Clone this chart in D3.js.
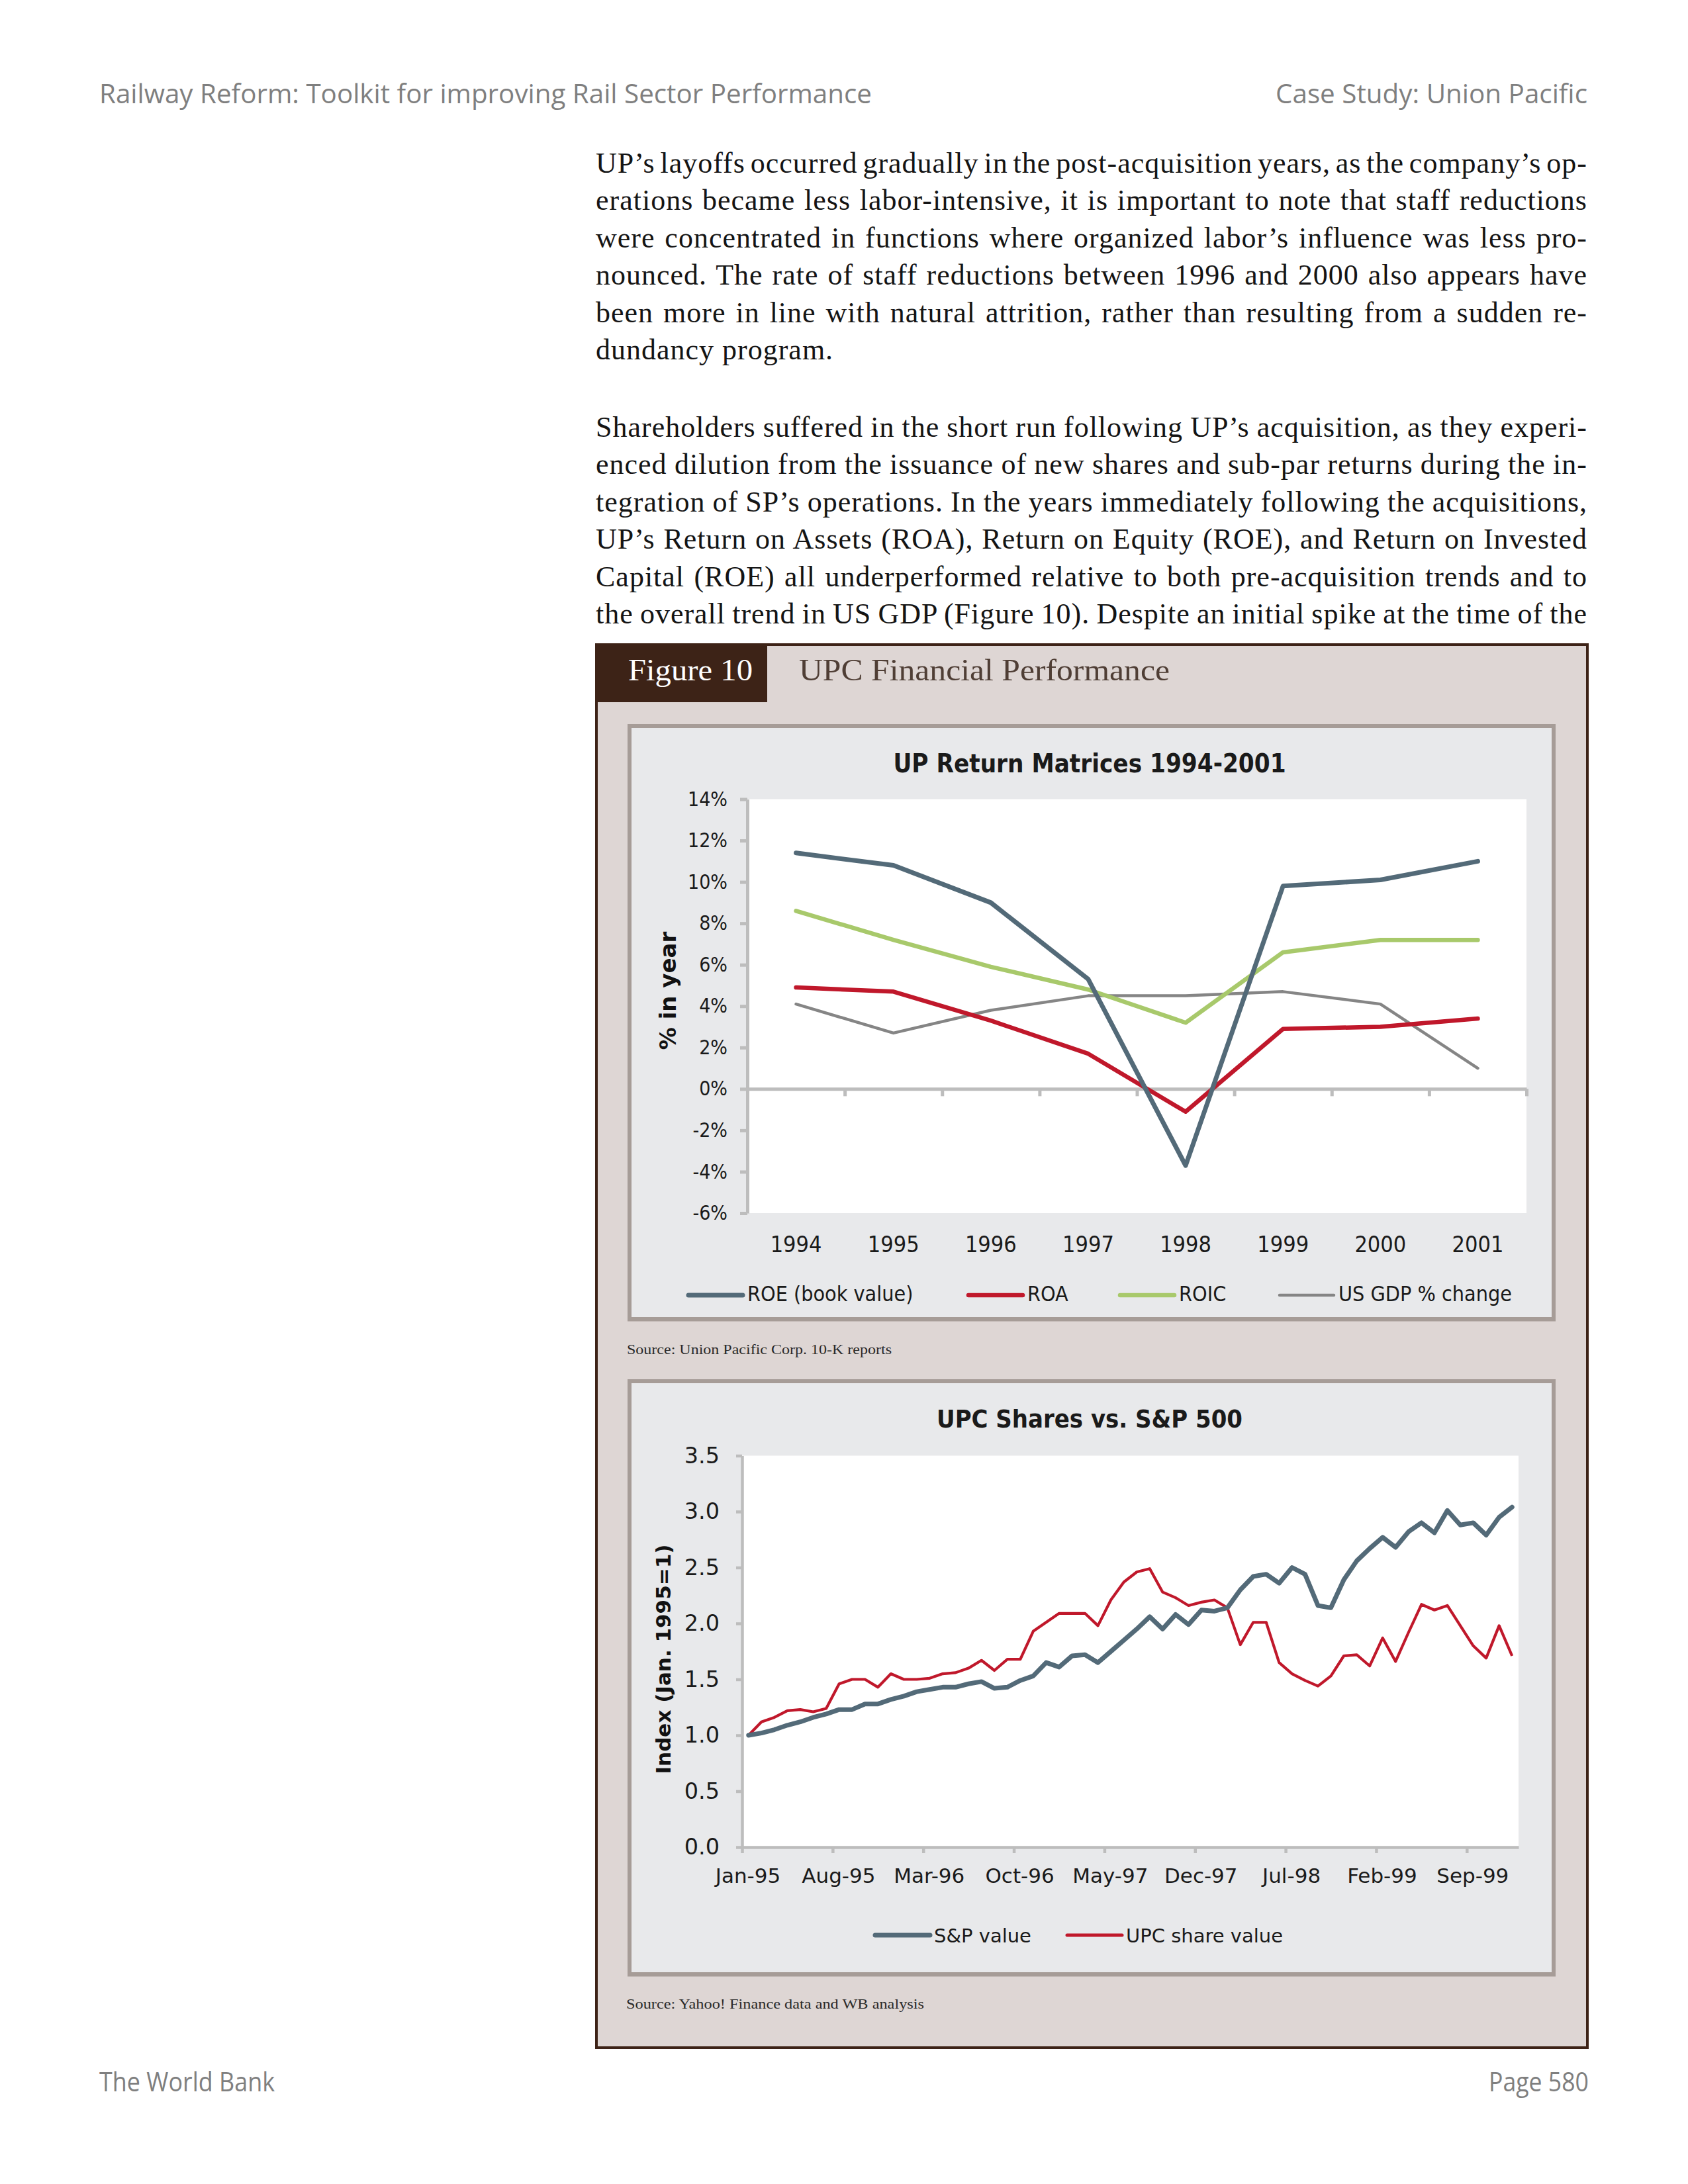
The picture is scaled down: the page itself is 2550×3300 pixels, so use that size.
<!DOCTYPE html>
<html><head><meta charset="utf-8">
<script src="https://cdn.jsdelivr.net/npm/d3@7/dist/d3.min.js"></script>
<style>html,body{margin:0;padding:0;background:#fff;}svg{display:block}</style>
</head><body>
<svg id="page" width="2550" height="3300"></svg>
<script>
// ---------- DATA ----------
const years = ["1994","1995","1996","1997","1998","1999","2000","2001"];
const roe  = [11.4, 10.8, 9.0, 5.3, -3.7, 9.8, 10.1, 11.0];
const roa  = [4.9, 4.7, 3.3, 1.7, -1.1, 2.9, 3.0, 3.4];
const roic = [8.6, 7.2, 5.9, 4.8, 3.2, 6.6, 7.2, 7.2];
const gdp  = [4.1, 2.7, 3.8, 4.5, 4.5, 4.7, 4.1, 1.0];
const pctTicks = [-6, -4, -2, 0, 2, 4, 6, 8, 10, 12, 14];
const legend1 = ["ROE (book value)", "ROA", "ROIC", "US GDP % change"];

const monthTickLabels = ["Jan-95","Aug-95","Mar-96","Oct-96","May-97","Dec-97","Jul-98","Feb-99","Sep-99"];
const indexTicks = [0, 0.5, 1, 1.5, 2, 2.5, 3, 3.5];
const spValue = [1.00,1.02,1.05,1.09,1.12,1.16,1.19,1.23,1.23,1.28,1.28,1.32,1.35,1.39,1.41,1.43,1.43,1.46,1.48,1.42,
                 1.43,1.49,1.53,1.65,1.61,1.71,1.72,1.65,1.75,1.85,1.95,2.06,1.95,2.08,1.99,2.12,2.11,2.14,2.30,2.42,
                 2.44,2.36,2.50,2.44,2.16,2.14,2.39,2.56,2.67,2.77,2.68,2.82,2.90,2.81,3.01,2.88,2.90,2.79,2.95,3.04];
const upcValue = [1.00,1.12,1.16,1.22,1.23,1.21,1.24,1.46,1.50,1.50,1.43,1.55,1.50,1.50,1.51,1.55,1.56,1.60,1.67,1.58,
                  1.68,1.68,1.93,2.01,2.09,2.09,2.09,1.98,2.21,2.37,2.46,2.49,2.28,2.23,2.16,2.19,2.21,2.14,1.81,2.01,
                  2.01,1.65,1.55,1.49,1.44,1.53,1.71,1.72,1.62,1.87,1.66,1.92,2.17,2.12,2.16,1.98,1.80,1.69,1.98,1.71];
const legend2 = ["S&P value", "UPC share value"];

const para1 = [
 "UP’s layoffs occurred gradually in the post-acquisition years, as the company’s op-",
 "erations became less labor-intensive, it is important to note that staff reductions",
 "were concentrated in functions where organized labor’s influence was less pro-",
 "nounced. The rate of staff reductions between 1996 and 2000 also appears have",
 "been more in line with natural attrition, rather than resulting from a sudden re-",
 "dundancy program."
];
const para2 = [
 "Shareholders suffered in the short run following UP’s acquisition, as they experi-",
 "enced dilution from the issuance of new shares and sub-par returns during the in-",
 "tegration of SP’s operations. In the years immediately following the acquisitions,",
 "UP’s Return on Assets (ROA), Return on Equity (ROE), and Return on Invested",
 "Capital (ROE) all underperformed relative to both pre-acquisition trends and to",
 "the overall trend in US GDP (Figure 10). Despite an initial spike at the time of the"
];

// ---------- STYLE ----------
const C_SLATE = "#536a78", C_RED = "#c0182b", C_GREEN = "#a8c96b", C_GRAY = "#858585";
const AXIS = "#bdbdbd";
const CF = "'DejaVu Sans Condensed','DejaVu Sans',sans-serif";
const DV = "'DejaVu Sans',sans-serif";
const SERIF = "'Liberation Serif','Times New Roman',serif";
const HDR = "'Liberation Sans Narrow','Open Sans',sans-serif";

const svg = d3.select("#page");
svg.append("rect").attr("width",2550).attr("height",3300).attr("fill","#fff");

// ---------- header / footer ----------
function fitText(sel, len){ sel.attr("textLength", len).attr("lengthAdjust","spacingAndGlyphs"); }
const hdr = svg.append("g").attr("font-family",HDR).attr("font-size",41).attr("fill","#7f7f7f");
fitText(hdr.append("text").attr("x",150).attr("y",156).text("Railway Reform: Toolkit for improving Rail Sector Performance"),1167);
fitText(hdr.append("text").attr("x",1927).attr("y",156).text("Case Study: Union Pacific"),471);
fitText(hdr.append("text").attr("x",150).attr("y",3160).text("The World Bank"),265);
fitText(hdr.append("text").attr("x",2249).attr("y",3160).text("Page 580"),151);

// ---------- body text (justified) ----------
const body = svg.append("g").attr("font-family",SERIF).attr("font-size",44).attr("fill","#141414")
  .attr("letter-spacing",1.0);
function para(lines, y0, step, lastJustified){
  lines.forEach((ln,i)=>{
    const t = body.append("text").attr("x",900).attr("y",y0+i*step).text(ln);
    if(i < lines.length-1 || lastJustified){
      const w = t.node().getComputedTextLength();
      const spaces = (ln.match(/ /g)||[]).length;
      if(spaces>0) t.attr("word-spacing", (1498 - w)/spaces);
    }
  });
}
para(para1, 261, 56.4, false);
para(para2, 660, 56.4, true);

// ---------- figure box ----------
const DARK = "#3d2317";
svg.append("rect").attr("x",901).attr("y",974).attr("width",1497).attr("height",2120)
   .attr("fill","#ded6d4").attr("stroke",DARK).attr("stroke-width",4);
svg.append("rect").attr("x",899).attr("y",972).attr("width",260).attr("height",89).attr("fill",DARK);
const ft = svg.append("g").attr("font-family",SERIF).attr("font-size",47);
fitText(ft.append("text").attr("x",949).attr("y",1028).attr("fill","#fff").text("Figure 10"),188);
fitText(ft.append("text").attr("x",1207).attr("y",1028).attr("fill","#4f3e35").text("UPC Financial Performance"),560);

function panel(y0, y1){
  svg.append("rect").attr("x",951).attr("y",y0+3).attr("width",1396).attr("height",y1-y0-6)
     .attr("fill","#e8e9eb").attr("stroke","#a69c97").attr("stroke-width",6);
  svg.append("line").attr("x1",948).attr("x2",2350).attr("y1",y1-2).attr("y2",y1-2)
     .attr("stroke","#a69c97").attr("stroke-width",5);
}
panel(1094, 1996);
panel(2084, 2986);

const src = svg.append("g").attr("font-family",SERIF).attr("font-size",22).attr("fill","#2a2a2a");
fitText(src.append("text").attr("x",947).attr("y",2046).text("Source: Union Pacific Corp. 10-K reports"),400);
fitText(src.append("text").attr("x",946).attr("y",3035).text("Source: Yahoo! Finance data and WB analysis"),450);

// ---------- CHART 1 ----------
{
  const L=1129, R=2306, T=1207.5, B=1833;
  const g = svg.append("g").attr("font-family",CF);
  const x = d3.scaleBand().domain(years).range([L,R]);
  const xb = d3.scaleLinear().domain([0, years.length]).range([L,R]);
  const y = d3.scaleLinear().domain([-6,14]).range([B,T]);
  g.append("rect").attr("x",L).attr("y",T).attr("width",R-L).attr("height",B-T).attr("fill","#fff");

  g.append("text").attr("x",1646).attr("y",1167).attr("text-anchor","middle")
   .attr("font-size",38.2).attr("font-weight","bold").attr("fill","#1a1a1a").text("UP Return Matrices 1994-2001");

  const ya = g.append("g").attr("transform",`translate(${L},0)`)
     .call(d3.axisLeft(y).tickValues(pctTicks).tickFormat(d=>d+"%").tickSize(11).tickSizeOuter(0).tickPadding(19));
  ya.select(".domain").attr("stroke",AXIS).attr("stroke-width",5);
  ya.selectAll(".tick line").attr("stroke",AXIS).attr("stroke-width",5);
  ya.selectAll(".tick text").attr("font-size",30).attr("fill","#1a1a1a").attr("font-family",CF);

  const xa = g.append("g").attr("transform",`translate(0,${y(0)})`)
     .call(d3.axisBottom(xb).tickValues(d3.range(1, years.length+1)).tickFormat("").tickSize(11).tickSizeOuter(0));
  xa.select(".domain").attr("stroke",AXIS).attr("stroke-width",5);
  xa.selectAll(".tick line").attr("stroke",AXIS).attr("stroke-width",5);

  g.selectAll("text.yr").data(years).join("text").attr("class","yr")
   .attr("x",d=>x(d)+x.bandwidth()/2).attr("y",1892).attr("text-anchor","middle")
   .attr("font-size",34).attr("fill","#1a1a1a").text(d=>d);

  g.append("text").attr("transform","translate(1021,1497) rotate(-90)").attr("text-anchor","middle")
   .attr("font-size",34).attr("font-weight","bold").attr("font-family",DV)
   .attr("fill","#111").text("% in year");

  const line = d3.line().x((d,i)=>x(years[i])+x.bandwidth()/2).y(d=>y(d));
  const series = [
    {v:gdp, c:C_GRAY, w:4.5},
    {v:roic, c:C_GREEN, w:6.5},
    {v:roa, c:C_RED, w:6.5},
    {v:roe, c:C_SLATE, w:7}
  ];
  series.forEach(s=>{
    g.append("path").datum(s.v).attr("d",line).attr("fill","none").attr("stroke",s.c)
     .attr("stroke-width",s.w).attr("stroke-linejoin","round").attr("stroke-linecap","round");
  });

  const leg = [
    {t:legend1[0], c:C_SLATE, x0:1040, w:7},
    {t:legend1[1], c:C_RED, x0:1463, w:6.5},
    {t:legend1[2], c:C_GREEN, x0:1692, w:6.5},
    {t:legend1[3], c:C_GRAY, x0:1933, w:4.5}
  ];
  leg.forEach(l=>{
    g.append("line").attr("x1",l.x0).attr("x2",l.x0+82).attr("y1",1957).attr("y2",1957)
     .attr("stroke",l.c).attr("stroke-width",l.w).attr("stroke-linecap","round");
    g.append("text").attr("x",l.x0+89).attr("y",1966).attr("font-size",32).attr("fill","#1a1a1a").text(l.t);
  });
}

// ---------- CHART 2 ----------
{
  const L=1121, R=2294, T=2199.5, B=2791;
  const g = svg.append("g").attr("font-family",DV);
  const n = spValue.length;
  const xm = d3.scaleLinear().domain([0, n]).range([L,R]);
  const y = d3.scaleLinear().domain([0,3.5]).range([B,T]);
  g.append("rect").attr("x",L).attr("y",T).attr("width",R-L).attr("height",B-T).attr("fill","#fff");

  g.append("text").attr("x",1646).attr("y",2157).attr("text-anchor","middle").attr("font-family",CF)
   .attr("font-size",37.8).attr("font-weight","bold").attr("fill","#1a1a1a").text("UPC Shares vs. S&P 500");

  const ya = g.append("g").attr("transform",`translate(${L},0)`)
     .call(d3.axisLeft(y).tickValues(indexTicks).tickFormat(d3.format(".1f")).tickSize(9).tickSizeOuter(0).tickPadding(25));
  ya.select(".domain").attr("stroke",AXIS).attr("stroke-width",4.5);
  ya.selectAll(".tick line").attr("stroke",AXIS).attr("stroke-width",4.5);
  ya.selectAll(".tick text").attr("font-size",33.5).attr("fill","#1a1a1a").attr("font-family",DV);

  const tickIdx = monthTickLabels.map((d,i)=>i*7);
  const xa = g.append("g").attr("transform",`translate(0,${B})`)
     .call(d3.axisBottom(xm).tickValues(tickIdx).tickFormat((d,i)=>monthTickLabels[i]).tickSize(9).tickSizeOuter(0));
  xa.select(".domain").attr("stroke",AXIS).attr("stroke-width",4.5);
  xa.selectAll(".tick line").attr("stroke",AXIS).attr("stroke-width",4.5);
  xa.selectAll(".tick text").attr("font-size",31).attr("fill","#1a1a1a").attr("font-family",DV)
    .attr("y",54).attr("dy",0).attr("dx",8.5);

  g.append("text").attr("transform","translate(1013,2507) rotate(-90)").attr("text-anchor","middle")
   .attr("font-size",31).attr("font-weight","bold").attr("font-family",DV)
   .attr("fill","#111").text("Index (Jan. 1995=1)");

  const line = d3.line().x((d,i)=>xm(i+0.5)).y(d=>y(d));
  g.append("path").datum(upcValue).attr("d",line).attr("fill","none").attr("stroke",C_RED)
   .attr("stroke-width",4.2).attr("stroke-linejoin","round");
  g.append("path").datum(spValue).attr("d",line).attr("fill","none").attr("stroke",C_SLATE)
   .attr("stroke-width",7).attr("stroke-linejoin","round").attr("stroke-linecap","round");

  const leg = [
    {t:legend2[0], c:C_SLATE, x0:1322, w:7},
    {t:legend2[1], c:C_RED, x0:1612, w:5}
  ];
  leg.forEach(l=>{
    g.append("line").attr("x1",l.x0).attr("x2",l.x0+83).attr("y1",2924).attr("y2",2924)
     .attr("stroke",l.c).attr("stroke-width",l.w).attr("stroke-linecap","round");
    g.append("text").attr("x",l.x0+89).attr("y",2935).attr("font-size",29).attr("fill","#1a1a1a").text(l.t);
  });
}
</script>
</body></html>
